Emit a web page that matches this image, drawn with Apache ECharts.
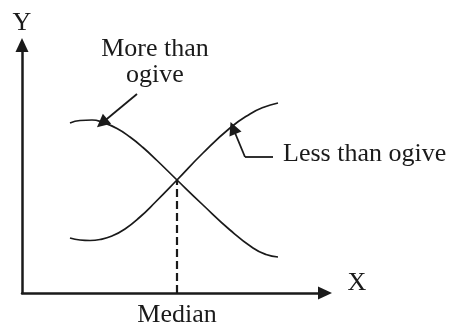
<!DOCTYPE html>
<html>
<head>
<meta charset="utf-8">
<script src="https://cdn.jsdelivr.net/npm/echarts@6/dist/echarts.min.js"></script>
<style>
  html, body { margin: 0; background: #fff; }
  #chart { width: 452px; height: 326px; }
</style>
</head>
<body>
<div id="chart"></div>
<script>
// points: x along the axis, y up from the x axis
const moreThanX = [48, 58, 70, 81, 95, 108, 121, 135, 155, 181, 208, 231, 244, 256];
const moreThanY = [170, 172.5, 173, 170.5, 164.5, 156, 145.5, 132.5, 113, 88, 63, 45, 38.5, 36];
const lessThanX = [48, 58, 68, 78, 90, 103, 118, 133, 155, 181, 208, 228, 241, 256];
const lessThanY = [55, 53, 52.5, 53.5, 57, 64, 76, 90.5, 113, 140, 165, 179, 185.5, 190];
const medianX = 155;
const medianY = 113;
// pointer arrows from the labels to the curves
const moreArrowX = [115, 80];
const moreArrowY = [199, 170];
const lessArrowX = [251, 223, 211];
const lessArrowY = [136, 136, 165];

const ink = "#1a1a1a";
const font = "'Liberation Serif', 'Times New Roman', serif";

const zip = (xs, ys) => xs.map((x, i) => [x, ys[i]]);

const chart = echarts.init(document.getElementById("chart"), null, { width: 452, height: 326 });

const axisBase = {
  type: "value",
  min: 0,
  axisLine: {
    show: true,
    symbol: ["none", "triangle"],
    symbolSize: [13, 14],
    lineStyle: { color: ink, width: 2.5 },
  },
  axisTick: { show: false },
  axisLabel: { show: false },
  splitLine: { show: false },
};

const curve = (name, xs, ys) => ({
  name,
  type: "line",
  smooth: 0.5,
  symbol: "none",
  lineStyle: { color: ink, width: 1.7 },
  data: zip(xs, ys),
});

const textStyle = { fill: ink, font: `26px ${font}` };

chart.setOption({
  animation: false,
  backgroundColor: "#fff",
  grid: { left: 22, top: 45, right: 127, bottom: 33 },
  xAxis: { ...axisBase, max: 303 },
  yAxis: { ...axisBase, max: 248 },
  series: [
    curve("More than ogive", moreThanX, moreThanY),
    curve("Less than ogive", lessThanX, lessThanY),
    {
      name: "Median",
      type: "line",
      symbol: "none",
      lineStyle: { color: ink, width: 2.2, type: [8, 4] },
      data: [[medianX, 0], [medianX, medianY]],
    },
    {
      type: "lines",
      coordinateSystem: "cartesian2d",
      symbolSize: 13,
      lineStyle: { color: ink, width: 1.8, opacity: 1 },
      data: [
        { coords: zip(moreArrowX, moreArrowY), symbol: ["none", "triangle"] },
        { coords: zip(lessArrowX, lessArrowY).slice(0, 2), symbol: ["none", "none"] },
        { coords: zip(lessArrowX, lessArrowY).slice(1), symbol: ["none", "triangle"] },
      ],
    },
  ],
  graphic: [
    { type: "text", x: 22, y: 23, style: { ...textStyle, text: "Y", align: "center", verticalAlign: "middle" } },
    { type: "text", x: 357, y: 283, style: { ...textStyle, text: "X", align: "center", verticalAlign: "middle" } },
    { type: "text", x: 177, y: 315, style: { ...textStyle, text: "Median", align: "center", verticalAlign: "middle" } },
    { type: "text", x: 155, y: 62, style: { ...textStyle, text: "More than\nogive", lineHeight: 26, align: "center", verticalAlign: "middle" } },
    { type: "text", x: 283, y: 154, style: { ...textStyle, text: "Less than ogive", align: "left", verticalAlign: "middle" } },
  ],
});
</script>
</body>
</html>
